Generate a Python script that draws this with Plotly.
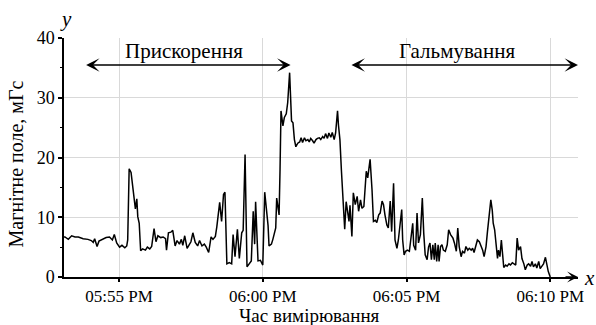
import pandas as pd
import plotly.graph_objects as go

# seconds after 17:53:00
t_sec = [5,7,14,21,28,35,45,55,62,66, 69,74,78,86,93,100,106,110,115,121,
         126,132,136,138,141,145,150,154,157,159, 162,165,169,175,179,184,188,193,197,201,
         207,212,217,219,223,228,232,237,241,246, 250,253,257,262,
         265,270,274,279,284,288,293,298,302,307, 312,316,321,324,330,334,338,341,345,350,
         355,358,362,367,371,376,379,383,387,392, 396,400,403,405,408,410,415,420,424,427,
         431,433,438,441,447,449,454,456,458,462, 465,469,472,476,478,480,483,486,489,493,
         497,500,503,507,510,514,517,520,524,527, 531,534,538,541,545,548,551,555,558,562,
         565,569,572,576,578,581,584,587,591,594, 597,600,602,606,609,613,617,620,624,627,
         631,636,639,644,648,651,655,658,662,665, 669,672,675,679,682,686,689,693,696,700,
         703,706,710,712,715,718,722,726,729,733, 735,739,742,745,749,753,756,759,763,766,
         769,772,775,778,780,783,786,788,791,794, 797,801,805,808,812,817,820,824,827,830,
         834,837,841,844,848,851,855,858,861,865, 868,872,875,879,882,886,889,892,896,899,
         901,904,907,910,912,915,918,921,923,927, 930,934,937,941,944,948,951,954,958,961,
         965,968,972,975,979,982,985,989,992,996, 999,1003,1006,1010,1013,1016,1020]

field_mgs = [6.7,6.7,6.3,6.9,6.7,6.7,6.4,6.3,6.1,5.8, 6.4,5.1,6.0,6.3,6.6,6.7,6.2,7.1,5.7,5.0,
             5.3,4.9,5.2,6.2,18.1,17.5,14.1,11.4,13.1,10.1, 9.0,4.4,4.7,4.5,5.0,4.7,5.1,8.1,5.9,6.9,
             6.6,6.7,6.4,4.5,7.4,7.5,7.8,5.2,6.1,5.5, 6.3,5.3,6.9,4.8,
             5.2,5.9,7.4,5.8,5.2,6.1,5.2,5.5,5.0,4.1, 6.7,6.3,6.8,8.4,12.5,9.3,13.8,14.2,2.2,2.4,
             2.2,7.1,3.4,8.0,3.1,7.4,7.8,20.5,1.7,2.3, 2.7,11.0,5.5,12.6,4.0,2.7,2.8,2.0,14.2,11.5,
             8.6,5.2,5.5,6.3,8.2,13.2,10.4,18.0,27.8,25.3, 26.7,27.3,29.2,34.2,30.3,26.1,25.8,23.0,21.8,22.4,
             22.6,23.3,22.5,23.3,22.8,23.0,22.6,23.2,22.8,22.4, 23.0,23.2,23.3,23.0,23.5,23.2,24.0,23.2,24.1,23.4,
             24.2,23.0,24.1,27.8,25.4,23.0,18.0,13.5,8.0,12.6, 10.4,9.3,12.0,6.8,14.1,12.1,13.5,11.0,12.9,11.5,
             11.8,17.7,16.6,19.7,14.6,9.3,9.5,9.1,10.4,10.7, 12.7,12.1,10.4,8.7,8.2,12.7,7.6,15.7,6.2,4.8,
             6.2,8.4,11.3,6.2,3.7,4.3,4.5,4.3,6.8,9.0, 5.3,4.5,10.7,5.7,7.1,13.2,7.3,3.7,2.9,5.0,
             5.7,2.9,5.4,2.9,5.7,2.6,5.4,2.6,5.1,5.4, 4.5,4.3,5.4,7.9,7.1,6.5,5.7,4.3,8.2,5.1,
             3.4,4.3,4.0,5.1,4.5,4.8,4.5,4.8,4.1,5.1, 6.2,5.9,5.4,4.5,3.4,5.1,7.6,10.1,12.9,11.2,
             9.0,7.9,4.8,3.1,4.5,3.4,6.2,3.1,1.6,2.0, 1.8,2.2,2.0,2.4,2.2,2.0,6.5,4.5,5.1,3.1,
             2.2,1.2,2.0,2.2,1.8,2.6,1.7,2.2,1.5,2.6, 1.4,2.0,2.2,3.3,1.7,0.9,0.0]

tick_times = ["17:55:00", "18:00:00", "18:05:00", "18:10:00"]
x_range = ["17:53:05", "18:10:58"]
y_ticks = [0, 10, 20, 30, 40]

phase_labels = ["Прискорення", "Гальмування"]
phase_start = ["17:53:48", "18:03:02"]
phase_end = ["18:00:58", "18:10:58"]
phase_label_at = ["17:57:15", "18:06:45"]

day = "2024-01-01 "
base = pd.Timestamp(day + "17:53:00")
times = [base + pd.Timedelta(seconds=s) for s in t_sec]

FONT = "Liberation Serif"

fig = go.Figure()
fig.add_trace(go.Scatter(x=times, y=field_mgs, mode="lines",
                         line=dict(color="black", width=1.5), showlegend=False))

ann = []
for lab, s, e, c in zip(phase_labels, phase_start, phase_end, phase_label_at):
    ann.append(dict(x=day + e, y=35.5, ax=day + s, ay=35.5, xref="x", yref="y",
                    axref="x", ayref="y", text="", showarrow=True, arrowside="end+start",
                    arrowhead=3, arrowsize=1.5, arrowwidth=1.5, arrowcolor="black",
                    standoff=0, startstandoff=0))
    ann.append(dict(x=day + c, y=37.9, xref="x", yref="y", text=lab, showarrow=False,
                    xanchor="center", yanchor="middle",
                    font=dict(family=FONT, size=21, color="black")))

# x-axis arrow
ann.append(dict(x=1.0, y=0, xref="paper", yref="paper", ax=-14, ay=0, text="",
                showarrow=True, arrowhead=3, arrowsize=1.3, arrowwidth=1.4,
                arrowcolor="black", standoff=0))
ann.append(dict(x=1.0, y=0, xref="paper", yref="paper", text="<i>x</i>", showarrow=False,
                xanchor="center", yanchor="middle",
                xshift=11, yshift=-1, font=dict(family=FONT, size=21, color="black")))
ann.append(dict(x=0, y=1.0, xref="paper", yref="paper", text="<i>y</i>", showarrow=False,
                xanchor="center", yanchor="middle",
                xshift=2, yshift=19, font=dict(family=FONT, size=21, color="black")))
ann.append(dict(x=-0.0944, y=0.473, xref="paper", yref="paper", text="Магнітне поле, мГс",
                xanchor="center", yanchor="middle",
                textangle=-90, showarrow=False, font=dict(family=FONT, size=20, color="black")))
ann.append(dict(x=0.477, y=-0.162, xref="paper", yref="paper", text="Час вимірювання",
                xanchor="center", yanchor="middle",
                showarrow=False, font=dict(family=FONT, size=19, color="black")))

fig.update_layout(
    width=596, height=325,
    margin=dict(l=64, r=13, t=38, b=48),
    paper_bgcolor="white", plot_bgcolor="white",
    font=dict(family=FONT, size=17, color="black"),
    annotations=ann,
    xaxis=dict(type="date", range=[day + x_range[0], day + x_range[1]],
               tickvals=[day + t for t in tick_times], tickformat="%I:%M %p",
               showgrid=True, gridcolor="#d9d9d9", gridwidth=1,
               showline=True, linecolor="black", linewidth=1.5,
               ticks="outside", ticklen=3, tickcolor="black", tickwidth=1.5,
               zeroline=False, tickfont=dict(family=FONT, size=17, color="black")),
    yaxis=dict(range=[0, 40], tickvals=y_ticks, showgrid=True, gridcolor="#d9d9d9",
               gridwidth=1, showline=True, linecolor="black", linewidth=1.5,
               ticks="outside", ticklen=4, tickcolor="black", tickwidth=1.5,
               zeroline=False, tickfont=dict(family=FONT, size=18, color="black"),
               minor=dict(dtick=5, ticks="outside", ticklen=2, tickcolor="black",
                          tickwidth=1.2, showgrid=False)),
)

fig.write_html("out.html", config={"displayModeBar": False},
               post_script="document.body.style.margin='0px';")
